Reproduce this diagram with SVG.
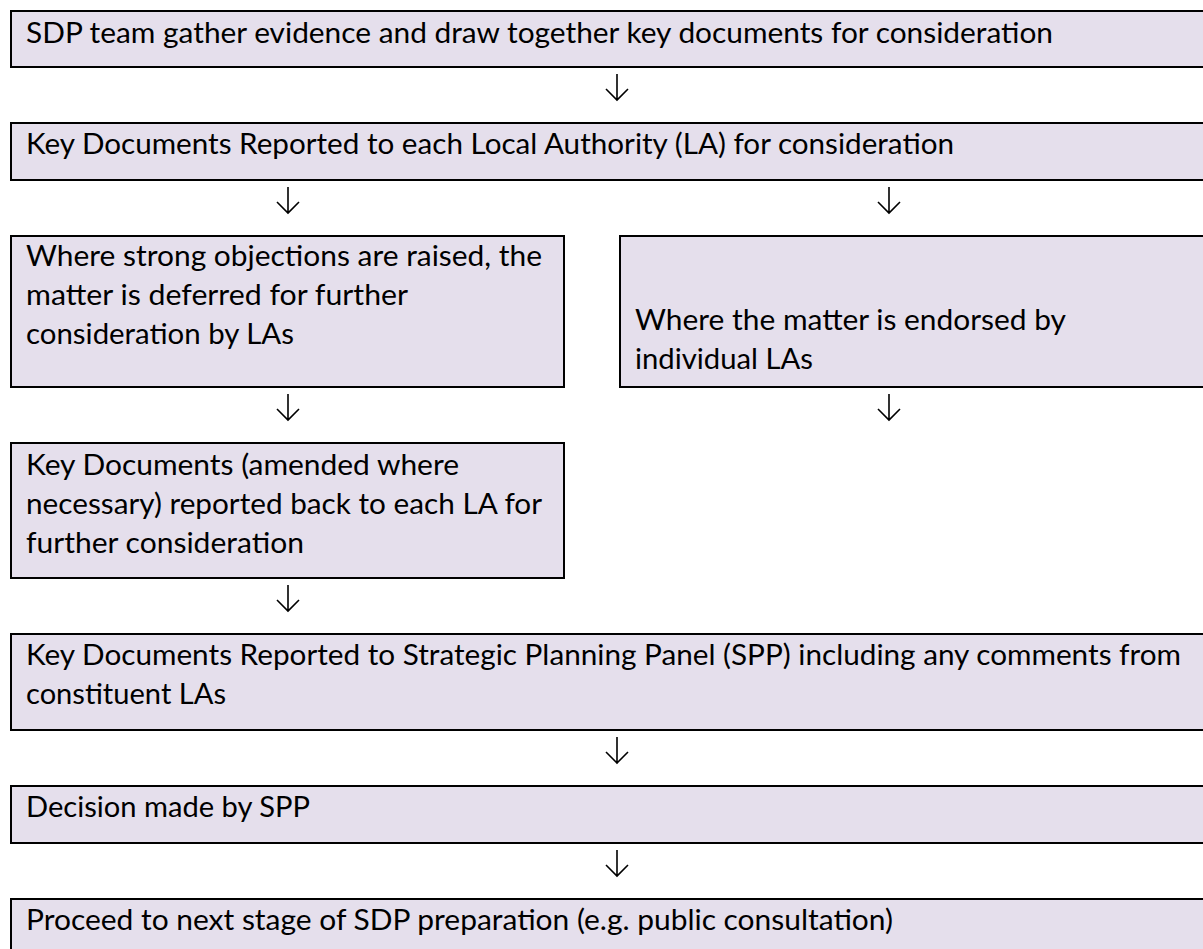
<svg xmlns="http://www.w3.org/2000/svg" width="1203" height="949" viewBox="0 0 1203 949">
<style>
.box{fill:#E5DFEC;stroke:#000;stroke-width:2}
.t{font-family:Lato,"Noto Sans","DejaVu Sans",sans-serif;font-size:29px;fill:#000}
.arr{fill:none;stroke:#000;stroke-width:1.6;stroke-linecap:butt;stroke-linejoin:miter}
</style>
<defs>
<path id="ar" d="M0,0 V26 M-11,15 L0,26 L11,15"/>
</defs>
<rect width="1203" height="949" fill="#fff"/>
<g id="n1"><rect class="box" x="11" y="11" width="1205" height="56"/>
<text class="t" x="26" y="43" textLength="1027" lengthAdjust="spacingAndGlyphs">SDP team gather evidence and draw together key documents for consideration</text></g>
<g id="n2"><rect class="box" x="11" y="123" width="1205" height="57"/>
<text class="t" x="26" y="154" textLength="928" lengthAdjust="spacingAndGlyphs">Key Documents Reported to each Local Authority (LA) for consideration</text></g>
<g id="n3"><rect class="box" x="11" y="236" width="553" height="151"/>
<text class="t" x="26" y="266" textLength="516" lengthAdjust="spacingAndGlyphs">Where strong objections are raised, the</text>
<text class="t" x="26" y="305" textLength="382" lengthAdjust="spacingAndGlyphs">matter is deferred for further</text>
<text class="t" x="26" y="344" textLength="268" lengthAdjust="spacingAndGlyphs">consideration by LAs</text></g>
<g id="n4"><rect class="box" x="620" y="236" width="596" height="151"/>
<text class="t" x="635" y="330" textLength="431" lengthAdjust="spacingAndGlyphs">Where the matter is endorsed by</text>
<text class="t" x="635" y="369" textLength="178" lengthAdjust="spacingAndGlyphs">individual LAs</text></g>
<g id="n5"><rect class="box" x="11" y="443" width="553" height="135"/>
<text class="t" x="26" y="475" textLength="433" lengthAdjust="spacingAndGlyphs">Key Documents (amended where</text>
<text class="t" x="26" y="514" textLength="516" lengthAdjust="spacingAndGlyphs">necessary) reported back to each LA for</text>
<text class="t" x="26" y="553" textLength="278" lengthAdjust="spacingAndGlyphs">further consideration</text></g>
<g id="n6"><rect class="box" x="11" y="634" width="1205" height="96"/>
<text class="t" x="26" y="665" textLength="1155" lengthAdjust="spacingAndGlyphs">Key Documents Reported to Strategic Planning Panel (SPP) including any comments from</text>
<text class="t" x="26" y="704" textLength="200" lengthAdjust="spacingAndGlyphs">constituent LAs</text></g>
<g id="n7"><rect class="box" x="11" y="786" width="1205" height="57"/>
<text class="t" x="26" y="817" textLength="284" lengthAdjust="spacingAndGlyphs">Decision made by SPP</text></g>
<g id="n8"><rect class="box" x="11" y="899" width="1205" height="60"/>
<text class="t" x="26" y="930" textLength="867" lengthAdjust="spacingAndGlyphs">Proceed to next stage of SDP preparation (e.g. public consultation)</text></g>
<g id="connectors" class="arr">
<use href="#ar" x="617" y="74"/>
<use href="#ar" x="288" y="187"/>
<use href="#ar" x="889" y="187"/>
<use href="#ar" x="288" y="394"/>
<use href="#ar" x="889" y="394"/>
<use href="#ar" x="288" y="585"/>
<use href="#ar" x="617" y="737"/>
<use href="#ar" x="617" y="850"/>
</g>
</svg>
